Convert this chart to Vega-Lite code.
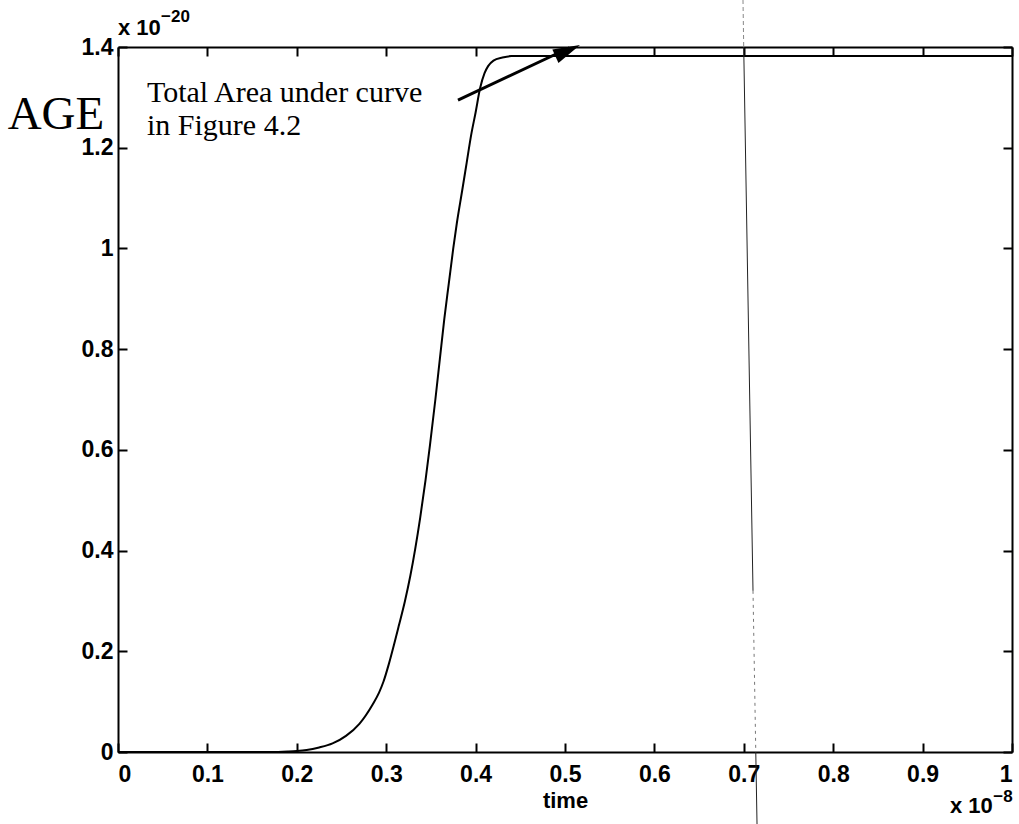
{
  "$schema": "https://vega.github.io/schema/vega-lite/v6.json",
  "width": 894,
  "height": 705,
  "autosize": {"type": "none"},
  "padding": {"left": 118, "top": 47, "right": 7, "bottom": 72},
  "background": "white",
  "config": {
    "view": {"stroke": null},
    "axis": {
      "grid": false,
      "domainColor": "black",
      "domainWidth": 2,
      "tickColor": "black",
      "tickWidth": 2,
      "tickSize": -9,
      "labelFont": "Liberation Sans",
      "labelFontSize": 23,
      "labelFontWeight": "bold",
      "labelColor": "black",
      "titleFont": "Liberation Sans",
      "titleFontSize": 22,
      "titleFontWeight": "bold",
      "titleColor": "black"
    }
  },
  "datasets": {
    "curve": [
      {"t": 0, "age": 0},
      {"t": 0.1, "age": 0},
      {"t": 0.17, "age": 0},
      {"t": 0.19, "age": 0.001},
      {"t": 0.2, "age": 0.002},
      {"t": 0.211, "age": 0.004},
      {"t": 0.225, "age": 0.009},
      {"t": 0.24, "age": 0.017},
      {"t": 0.255, "age": 0.032},
      {"t": 0.27, "age": 0.056},
      {"t": 0.285, "age": 0.095},
      {"t": 0.292, "age": 0.118},
      {"t": 0.297, "age": 0.14},
      {"t": 0.303, "age": 0.175},
      {"t": 0.309, "age": 0.215},
      {"t": 0.314, "age": 0.25},
      {"t": 0.321, "age": 0.3},
      {"t": 0.327, "age": 0.35},
      {"t": 0.338, "age": 0.465},
      {"t": 0.344, "age": 0.54},
      {"t": 0.349, "age": 0.61},
      {"t": 0.355, "age": 0.7},
      {"t": 0.36, "age": 0.78},
      {"t": 0.365, "age": 0.86},
      {"t": 0.37, "age": 0.93},
      {"t": 0.375, "age": 1.0},
      {"t": 0.379, "age": 1.05},
      {"t": 0.385, "age": 1.115},
      {"t": 0.39, "age": 1.17},
      {"t": 0.395, "age": 1.225},
      {"t": 0.4, "age": 1.27},
      {"t": 0.405, "age": 1.318},
      {"t": 0.41, "age": 1.348},
      {"t": 0.414, "age": 1.362},
      {"t": 0.42, "age": 1.373},
      {"t": 0.43, "age": 1.379},
      {"t": 0.44, "age": 1.382},
      {"t": 0.6, "age": 1.382},
      {"t": 1.0, "age": 1.382}
    ],
    "one": [{}]
  },
  "layer": [
    {
      "layer": [
        {
          "data": {"name": "curve"},
          "mark": {"type": "line", "color": "black", "strokeWidth": 2, "interpolate": "monotone"},
          "encoding": {
            "x": {
              "field": "t", "type": "quantitative",
              "scale": {"domain": [0, 1], "nice": false, "zero": false},
              "axis": {"orient": "bottom", "values": [0, 0.1, 0.2, 0.3, 0.4, 0.5, 0.6, 0.7, 0.8, 0.9, 1], "format": "~g", "labelPadding": 20, "title": "time", "titlePadding": 4}
            },
            "y": {
              "field": "age", "type": "quantitative",
              "scale": {"domain": [0, 1.4], "nice": false, "zero": false},
              "axis": {"orient": "left", "values": [0, 0.2, 0.4, 0.6, 0.8, 1, 1.2, 1.4], "format": "~g", "labelPadding": 14, "title": null}
            }
          }
        },
        {
          "data": {"name": "one"},
          "mark": {"type": "rule", "color": "black", "strokeWidth": 3},
          "encoding": {
            "x": {"datum": 0.3803, "type": "quantitative", "scale": {"domain": [0, 1], "nice": false, "zero": false}},
            "y": {"datum": 1.2947, "type": "quantitative", "scale": {"domain": [0, 1.4], "nice": false, "zero": false}},
            "x2": {"datum": 0.505},
            "y2": {"datum": 1.3985}
          }
        },
        {
          "data": {"name": "one"},
          "mark": {"type": "point", "shape": "M0,0L-2,-0.55L-2,0.55Z", "size": 729, "filled": true, "color": "black", "opacity": 1, "angle": -24.3},
          "encoding": {
            "x": {"datum": 0.5168, "type": "quantitative", "scale": {"domain": [0, 1], "nice": false, "zero": false}},
            "y": {"datum": 1.4039, "type": "quantitative", "scale": {"domain": [0, 1.4], "nice": false, "zero": false}}
          }
        },
        {
          "data": {"name": "one"},
          "mark": {"type": "text", "text": ["Total Area under curve", "in Figure 4.2"], "font": "Liberation Serif", "fontSize": 30, "lineHeight": 33, "align": "left", "baseline": "alphabetic", "color": "black"},
          "encoding": {
            "x": {"datum": 0.0324, "type": "quantitative", "scale": {"domain": [0, 1], "nice": false, "zero": false}},
            "y": {"datum": 1.2907, "type": "quantitative", "scale": {"domain": [0, 1.4], "nice": false, "zero": false}}
          }
        },
        {
          "data": {"name": "one"},
          "mark": {"type": "text", "text": "AGE", "font": "Liberation Serif", "fontSize": 47, "align": "center", "baseline": "alphabetic", "color": "black"},
          "encoding": {
            "x": {"datum": -0.0694, "type": "quantitative", "scale": {"domain": [0, 1], "nice": false, "zero": false}},
            "y": {"datum": 1.2371, "type": "quantitative", "scale": {"domain": [0, 1.4], "nice": false, "zero": false}}
          }
        },
        {
          "data": {"name": "one"},
          "mark": {"type": "text", "text": "x 10", "font": "Liberation Sans", "fontSize": 22, "fontWeight": "bold", "align": "left", "baseline": "alphabetic", "color": "black"},
          "encoding": {
            "x": {"datum": 0, "type": "quantitative", "scale": {"domain": [0, 1], "nice": false, "zero": false}},
            "y": {"datum": 1.4238, "type": "quantitative", "scale": {"domain": [0, 1.4], "nice": false, "zero": false}}
          }
        },
        {
          "data": {"name": "one"},
          "mark": {"type": "text", "text": "−20", "font": "Liberation Sans", "fontSize": 17, "fontWeight": "bold", "align": "left", "baseline": "alphabetic", "color": "black"},
          "encoding": {
            "x": {"datum": 0.0481, "type": "quantitative", "scale": {"domain": [0, 1], "nice": false, "zero": false}},
            "y": {"datum": 1.4496, "type": "quantitative", "scale": {"domain": [0, 1.4], "nice": false, "zero": false}}
          }
        },
        {
          "data": {"name": "one"},
          "mark": {"type": "text", "text": "x 10", "font": "Liberation Sans", "fontSize": 22, "fontWeight": "bold", "align": "left", "baseline": "alphabetic", "color": "black"},
          "encoding": {
            "x": {"datum": 0.9306, "type": "quantitative", "scale": {"domain": [0, 1], "nice": false, "zero": false}},
            "y": {"datum": -0.1211, "type": "quantitative", "scale": {"domain": [0, 1.4], "nice": false, "zero": false}}
          }
        },
        {
          "data": {"name": "one"},
          "mark": {"type": "text", "text": "−8", "font": "Liberation Sans", "fontSize": 17, "fontWeight": "bold", "align": "left", "baseline": "alphabetic", "color": "black"},
          "encoding": {
            "x": {"datum": 0.979, "type": "quantitative", "scale": {"domain": [0, 1], "nice": false, "zero": false}},
            "y": {"datum": -0.0993, "type": "quantitative", "scale": {"domain": [0, 1.4], "nice": false, "zero": false}}
          }
        },
        {
          "data": {"name": "one"},
          "mark": {"type": "rule", "color": "#888888", "strokeWidth": 1, "strokeDash": [4, 3]},
          "encoding": {
            "x": {"datum": 0.6991, "type": "quantitative", "scale": {"domain": [0, 1], "nice": false, "zero": false}},
            "y": {"datum": 1.4933, "type": "quantitative", "scale": {"domain": [0, 1.4], "nice": false, "zero": false}},
            "x2": {"datum": 0.6999},
            "y2": {"datum": 1.4}
          }
        },
        {
          "data": {"name": "one"},
          "mark": {"type": "rule", "color": "#222222", "strokeWidth": 1},
          "encoding": {
            "x": {"datum": 0.6999, "type": "quantitative", "scale": {"domain": [0, 1], "nice": false, "zero": false}},
            "y": {"datum": 1.4, "type": "quantitative", "scale": {"domain": [0, 1.4], "nice": false, "zero": false}},
            "x2": {"datum": 0.7103},
            "y2": {"datum": 0.32}
          }
        },
        {
          "data": {"name": "one"},
          "mark": {"type": "rule", "color": "#777777", "strokeWidth": 1, "strokeDash": [3, 4]},
          "encoding": {
            "x": {"datum": 0.7103, "type": "quantitative", "scale": {"domain": [0, 1], "nice": false, "zero": false}},
            "y": {"datum": 0.32, "type": "quantitative", "scale": {"domain": [0, 1.4], "nice": false, "zero": false}},
            "x2": {"datum": 0.7134},
            "y2": {"datum": 0}
          }
        },
        {
          "data": {"name": "one"},
          "mark": {"type": "rule", "color": "#222222", "strokeWidth": 1},
          "encoding": {
            "x": {"datum": 0.7134, "type": "quantitative", "scale": {"domain": [0, 1], "nice": false, "zero": false}},
            "y": {"datum": 0, "type": "quantitative", "scale": {"domain": [0, 1.4], "nice": false, "zero": false}},
            "x2": {"datum": 0.7148},
            "y2": {"datum": -0.143}
          }
        }
      ]
    },
    {
      "data": {"name": "curve"},
      "mark": {"type": "line", "opacity": 0},
      "encoding": {
        "x": {
          "field": "t", "type": "quantitative",
          "scale": {"domain": [0, 1], "nice": false, "zero": false},
          "axis": {"orient": "top", "values": [0, 0.1, 0.2, 0.3, 0.4, 0.5, 0.6, 0.7, 0.8, 0.9, 1], "labels": false, "title": null}
        },
        "y": {
          "field": "age", "type": "quantitative",
          "scale": {"domain": [0, 1.4], "nice": false, "zero": false},
          "axis": {"orient": "right", "values": [0, 0.2, 0.4, 0.6, 0.8, 1, 1.2, 1.4], "labels": false, "title": null}
        }
      }
    }
  ],
  "resolve": {"axis": {"x": "independent", "y": "independent"}}
}
